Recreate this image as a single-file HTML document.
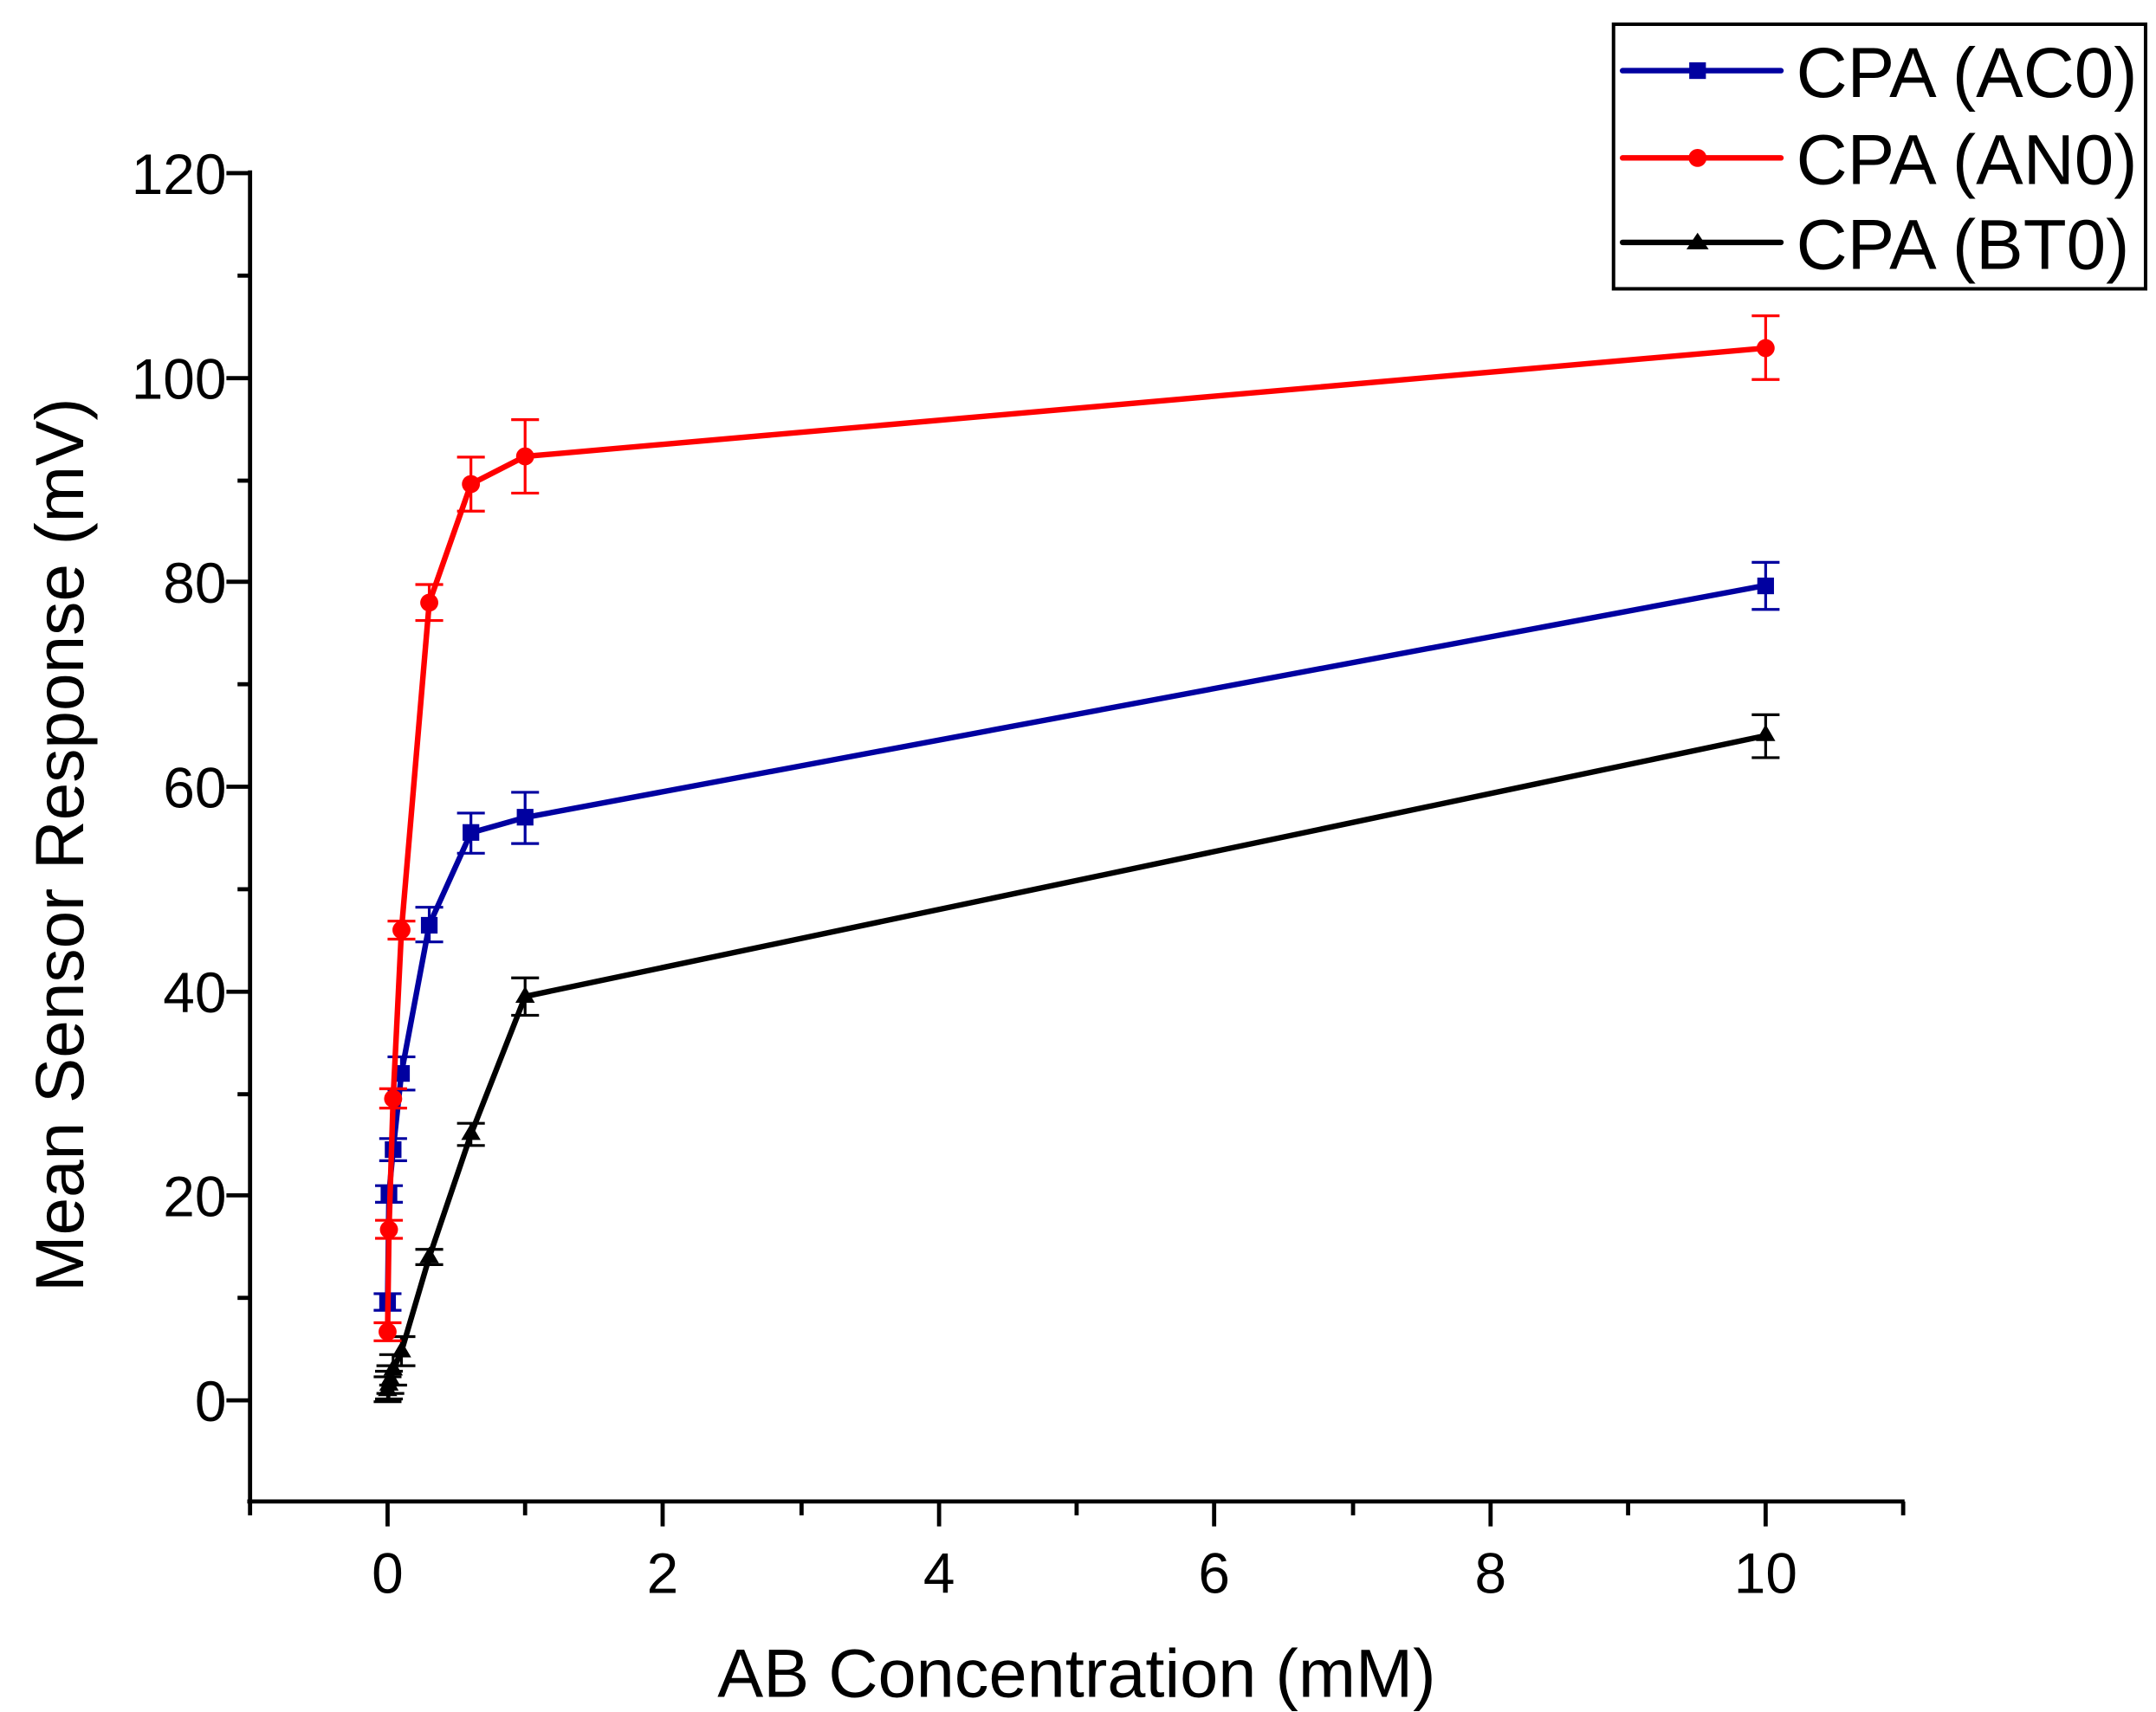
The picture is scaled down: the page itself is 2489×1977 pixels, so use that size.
<!DOCTYPE html>
<html><head><meta charset="utf-8"><style>html,body{margin:0;padding:0;background:#fff}svg{display:block}</style></head>
<body>
<svg width="2489" height="1977" viewBox="0 0 1552 1236" preserveAspectRatio="none" xmlns="http://www.w3.org/2000/svg" font-family="Liberation Sans, Arial, sans-serif">
<rect width="1552" height="1236" fill="#fff"/>
<g stroke="#000" stroke-width="3" fill="none">
<line x1="180" y1="123" x2="180" y2="1085"/>
<line x1="178" y1="1084" x2="1371" y2="1084"/>
<line x1="163" y1="125" x2="180" y2="125"/>
<line x1="163" y1="273" x2="180" y2="273"/>
<line x1="163" y1="420" x2="180" y2="420"/>
<line x1="163" y1="568" x2="180" y2="568"/>
<line x1="163" y1="716" x2="180" y2="716"/>
<line x1="163" y1="863" x2="180" y2="863"/>
<line x1="163" y1="1011" x2="180" y2="1011"/>
<line x1="171" y1="199" x2="180" y2="199"/>
<line x1="171" y1="347" x2="180" y2="347"/>
<line x1="171" y1="494" x2="180" y2="494"/>
<line x1="171" y1="642" x2="180" y2="642"/>
<line x1="171" y1="790" x2="180" y2="790"/>
<line x1="171" y1="937" x2="180" y2="937"/>
<line x1="279" y1="1084" x2="279" y2="1102"/>
<line x1="477" y1="1084" x2="477" y2="1102"/>
<line x1="676" y1="1084" x2="676" y2="1102"/>
<line x1="874" y1="1084" x2="874" y2="1102"/>
<line x1="1073" y1="1084" x2="1073" y2="1102"/>
<line x1="1271" y1="1084" x2="1271" y2="1102"/>
<line x1="180" y1="1084" x2="180" y2="1094"/>
<line x1="378" y1="1084" x2="378" y2="1094"/>
<line x1="577" y1="1084" x2="577" y2="1094"/>
<line x1="775" y1="1084" x2="775" y2="1094"/>
<line x1="974" y1="1084" x2="974" y2="1094"/>
<line x1="1172" y1="1084" x2="1172" y2="1094"/>
<line x1="1370" y1="1084" x2="1370" y2="1094"/>
</g>
<g font-size="41" fill="#000" text-anchor="end">
<text x="163" y="140">120</text>
<text x="163" y="288">100</text>
<text x="163" y="435">80</text>
<text x="163" y="583">60</text>
<text x="163" y="731">40</text>
<text x="163" y="878">20</text>
<text x="163" y="1026">0</text>
</g>
<g font-size="41" fill="#000" text-anchor="middle">
<text x="279" y="1150">0</text>
<text x="477" y="1150">2</text>
<text x="676" y="1150">4</text>
<text x="874" y="1150">6</text>
<text x="1073" y="1150">8</text>
<text x="1271" y="1150">10</text>
</g>
<text x="775" y="1225" font-size="49.5" text-anchor="middle">AB Concentration (mM)</text>
<text transform="translate(60,610) rotate(-90)" font-size="49" text-anchor="middle">Mean Sensor Response (mV)</text>

<g stroke="#000" stroke-width="2">
<path d="M269,994H289M279,994V1012M269,1012H289 M270,990H290M280,990V1010M270,1010H290 M271,986H291M281,986V1006M271,1006H291 M273,978H293M283,978V1000M273,1000H293 M279,965H299M289,965V986M279,986H299 M299,902H319M309,902V913M299,913H319 M329,811H349M339,811V827M329,827H349 M368,706H388M378,706V733M368,733H388 M1261,516H1281M1271,516V547M1261,547H1281"/>
</g>
<polyline fill="none" stroke="#000" stroke-width="4" points="279,1003.6 280,1000 281,996.2 283,988.9 289,975.6 309,907.6 339,819 378,719.4 1271,531.1"/>
<g fill="#000">
<path d="M279,996l7,12h-14z M280,992l7,12h-14z M281,988l7,12h-14z M283,981l7,12h-14z M289,968l7,12h-14z M309,900l7,12h-14z M339,811l7,12h-14z M378,712l7,12h-14z M1271,523l7,12h-14z"/>
</g>

<g stroke="#0000A0" stroke-width="2">
<path d="M269,934H289M279,934V946M269,946H289 M270,856H290M280,856V868M270,868H290 M273,822H293M283,822V838M273,838H293 M279,763H299M289,763V787M279,787H299 M299,655H319M309,655V680M299,680H319 M329,587H349M339,587V616M329,616H349 M368,572H388M378,572V609M368,609H388 M1261,406H1281M1271,406V440M1261,440H1281"/>
</g>
<polyline fill="none" stroke="#0000A0" stroke-width="4" points="279,940.1 280,861.9 283,830.1 289,774.7 309,667.7 339,601.2 378,590.2 1271,422.6"/>
<g fill="#0000A0">
<rect x="273" y="934" width="12" height="12"/><rect x="274" y="856" width="12" height="12"/><rect x="277" y="824" width="12" height="12"/><rect x="283" y="769" width="12" height="12"/><rect x="303" y="662" width="12" height="12"/><rect x="333" y="595" width="12" height="12"/><rect x="372" y="584" width="12" height="12"/><rect x="1265" y="417" width="12" height="12"/>
</g>

<g stroke="#FF0000" stroke-width="2">
<path d="M269,955H289M279,955V968M269,968H289 M270,881H290M280,881V894M270,894H290 M273,786H293M283,786V800M273,800H293 M279,665H299M289,665V678M279,678H299 M299,422H319M309,422V448M299,448H319 M329,330H349M339,330V369M329,369H349 M368,303H388M378,303V356M368,356H388 M1261,228H1281M1271,228V274M1261,274H1281"/>
</g>
<polyline fill="none" stroke="#FF0000" stroke-width="4" points="279,961.5 280,887.7 283,793.2 289,671.4 309,435.1 339,349.5 378,329.5 1271,251.3"/>
<g fill="#FF0000">
<circle cx="279" cy="961.5" r="6.5"/><circle cx="280" cy="887.7" r="6.5"/><circle cx="283" cy="793.2" r="6.5"/><circle cx="289" cy="671.4" r="6.5"/><circle cx="309" cy="435.1" r="6.5"/><circle cx="339" cy="349.5" r="6.5"/><circle cx="378" cy="329.5" r="6.5"/><circle cx="1271" cy="251.3" r="6.5"/>
</g>

<rect x="1161.5" y="17.5" width="383" height="191" fill="none" stroke="#000" stroke-width="2.5"/>
<line x1="1168" y1="51" x2="1282" y2="51" stroke="#0000A0" stroke-width="4" stroke-linecap="round"/>
<rect x="1216" y="45" width="12" height="12" fill="#0000A0"/>
<line x1="1168" y1="114" x2="1282" y2="114" stroke="#FF0000" stroke-width="4" stroke-linecap="round"/>
<circle cx="1222" cy="114" r="6.5" fill="#FF0000"/>
<line x1="1168" y1="175" x2="1282" y2="175" stroke="#000" stroke-width="4" stroke-linecap="round"/>
<path d="M1222,168l8,12h-16z" fill="#000"/>
<g font-size="51" fill="#000">
<text x="1293" y="70">CPA (AC0)</text>
<text x="1293" y="133">CPA (AN0)</text>
<text x="1293" y="194">CPA (BT0)</text>
</g>
</svg>
</body></html>
